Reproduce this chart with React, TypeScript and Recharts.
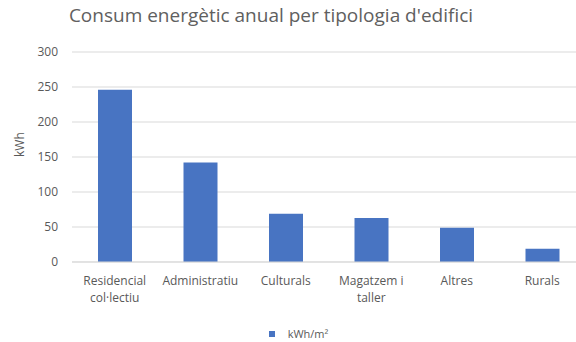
import React from 'react';
import { BarChart, Bar, XAxis, YAxis, CartesianGrid, Legend } from 'recharts';

const categories = [
  'Residencial\ncol·lectiu',
  'Administratiu',
  'Culturals',
  'Magatzem i\ntaller',
  'Altres',
  'Rurals',
];
const consum = [246, 142, 69, 63, 49, 19];
const yTicks = [0, 50, 100, 150, 200, 250, 300];

const data = categories.map((name, i) => ({ name, value: consum[i] }));

const FONT = '"Open Sans", sans-serif';
const GREY = '#595959';

function CategoryTick(props: any) {
  const { x, y, payload } = props;
  const lines = String(payload.value).split('\n');
  return (
    <g>
      {lines.map((l, i) => (
        <text key={i} x={x} y={y + 15 + i * 17} textAnchor="middle" fill={GREY} fontSize={12} fontFamily={FONT}>
          {l}
        </text>
      ))}
    </g>
  );
}

function LegendContent(props: any) {
  const item = props.payload?.[0];
  if (!item) return null;
  return (
    <div style={{ display: 'flex', alignItems: 'center', justifyContent: 'center', fontFamily: FONT, fontSize: 11, lineHeight: '12px', color: GREY, marginTop: 16, paddingLeft: 12 }}>
      <span style={{ width: 6, height: 6, background: item.color, display: 'inline-block', marginRight: 13 }} />
      <span>{item.value}</span>
    </div>
  );
}

export default function App() {
  return (
    <div style={{ position: 'fixed', left: 0, top: 0, width: 576, height: 342, overflow: 'hidden', background: '#fff' }}>
      <div style={{ position: 'absolute', left: 0, top: 2, width: 542, textAlign: 'center', fontFamily: FONT, fontSize: 19, color: '#606060', whiteSpace: 'nowrap' }}>
        Consum energètic anual per tipologia d'edifici
      </div>
      <div style={{ position: 'absolute', left: 0, top: 0 }}>
        <BarChart width={600} height={342} data={data} margin={{ top: 52, right: 15, left: 0, bottom: 6 }}>
          <CartesianGrid vertical={false} stroke="#d9d9d9" />
          <XAxis
            dataKey="name"
            axisLine={{ stroke: '#d9d9d9' }}
            tickLine={false}
            interval={0}
            height={50}
            tick={<CategoryTick />}
          />
          <YAxis
            width={72}
            domain={[0, 300]}
            ticks={yTicks}
            axisLine={false}
            tickLine={false}
            tickSize={0}
            tickMargin={14}
            tick={{ fill: GREY, fontSize: 12, fontFamily: FONT }}
            label={{ value: 'kWh', angle: -90, position: 'insideLeft', offset: 20, fill: GREY, fontSize: 12, fontFamily: FONT }}
          />
          <Legend verticalAlign="bottom" height={24} content={<LegendContent />} />
          <Bar dataKey="value" name="kWh/m²" fill="#4874C2" barSize={34} isAnimationActive={false} />
        </BarChart>
      </div>
    </div>
  );
}
